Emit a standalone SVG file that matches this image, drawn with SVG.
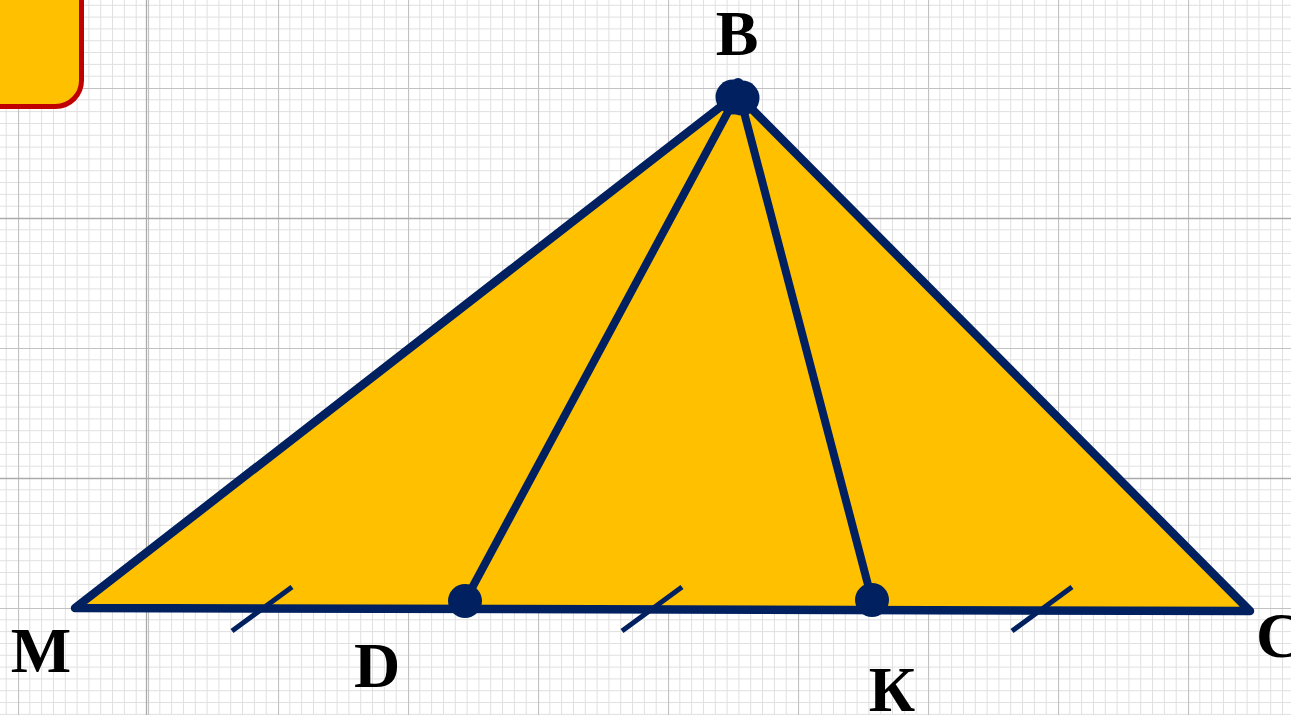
<svg xmlns="http://www.w3.org/2000/svg" width="1291" height="715" viewBox="0 0 1291 715">
<style>
.lbl{font-family:"Liberation Serif","Times New Roman",serif;font-weight:bold;font-size:64px;fill:#000}
.edge{stroke:#002060;stroke-width:8;stroke-linecap:round;fill:none}
.tick{stroke:#002060;stroke-width:5;fill:none}
.pt{fill:#002060}
.minor{stroke:#e0e0e0;stroke-width:1}
.major{stroke:#c2c2c2;stroke-width:1.2}
.strong{stroke:#aaaaaa;stroke-width:1.3}
</style>
<defs>
<pattern id="grid" patternUnits="userSpaceOnUse" x="18" y="88" width="130" height="130">
<g class="minor">
<line x1="11.8" y1="0" x2="11.8" y2="130"/><line x1="23.6" y1="0" x2="23.6" y2="130"/><line x1="35.5" y1="0" x2="35.5" y2="130"/><line x1="47.3" y1="0" x2="47.3" y2="130"/><line x1="59.1" y1="0" x2="59.1" y2="130"/><line x1="70.9" y1="0" x2="70.9" y2="130"/><line x1="82.7" y1="0" x2="82.7" y2="130"/><line x1="94.5" y1="0" x2="94.5" y2="130"/><line x1="106.4" y1="0" x2="106.4" y2="130"/><line x1="118.2" y1="0" x2="118.2" y2="130"/>
<line y1="11.8" x1="0" y2="11.8" x2="130"/><line y1="23.6" x1="0" y2="23.6" x2="130"/><line y1="35.5" x1="0" y2="35.5" x2="130"/><line y1="47.3" x1="0" y2="47.3" x2="130"/><line y1="59.1" x1="0" y2="59.1" x2="130"/><line y1="70.9" x1="0" y2="70.9" x2="130"/><line y1="82.7" x1="0" y2="82.7" x2="130"/><line y1="94.5" x1="0" y2="94.5" x2="130"/><line y1="106.4" x1="0" y2="106.4" x2="130"/><line y1="118.2" x1="0" y2="118.2" x2="130"/>
</g>
<g class="major">
<line x1="0.5" y1="0" x2="0.5" y2="130"/><line x1="0" y1="0.5" x2="130" y2="0.5"/>
</g>
</pattern>
</defs>
<rect width="1291" height="715" fill="#fff"/>
<rect width="1291" height="715" fill="url(#grid)"/>
<g class="strong">
<line x1="146.5" y1="0" x2="146.5" y2="715"/>
<line x1="0" y1="218.5" x2="1291" y2="218.5"/>
<line x1="0" y1="478.5" x2="1291" y2="478.5"/>
</g>
<g id="box">
<rect x="-40" y="-40" width="121.5" height="146.5" rx="26" ry="26" fill="#FFC000" stroke="#C00000" stroke-width="5"/>
</g>
<g id="triangle">
<polygon points="75,608 737,94 1250,611" fill="#FFC000" stroke="#002060" stroke-width="8.5" stroke-linejoin="round"/>
</g>
<g id="connectors">
<line class="edge" x1="736" y1="97" x2="465" y2="601"/>
<line class="edge" x1="740" y1="97" x2="872" y2="600"/>
<line class="tick" x1="232" y1="631" x2="292" y2="587"/>
<line class="tick" x1="622" y1="631" x2="682" y2="587"/>
<line class="tick" x1="1012" y1="631" x2="1072" y2="587"/>
</g>
<g id="node-B">
<circle class="pt" cx="733" cy="97" r="17.5"/>
<circle class="pt" cx="742" cy="98" r="17.5"/>
<circle class="pt" cx="738" cy="84" r="6"/>
<text class="lbl" x="737" y="55" text-anchor="middle">B</text>
</g>
<g id="node-D">
<circle class="pt" cx="465" cy="601" r="17"/>
<text class="lbl" x="377" y="687" text-anchor="middle">D</text>
</g>
<g id="node-K">
<circle class="pt" cx="872" cy="600" r="17"/>
<text class="lbl" x="892" y="711" text-anchor="middle">К</text>
</g>
<g id="node-M">
<text class="lbl" x="41" y="672" text-anchor="middle">M</text>
</g>
<g id="node-C">
<text class="lbl" x="1256" y="657">C</text>
</g>
</svg>
